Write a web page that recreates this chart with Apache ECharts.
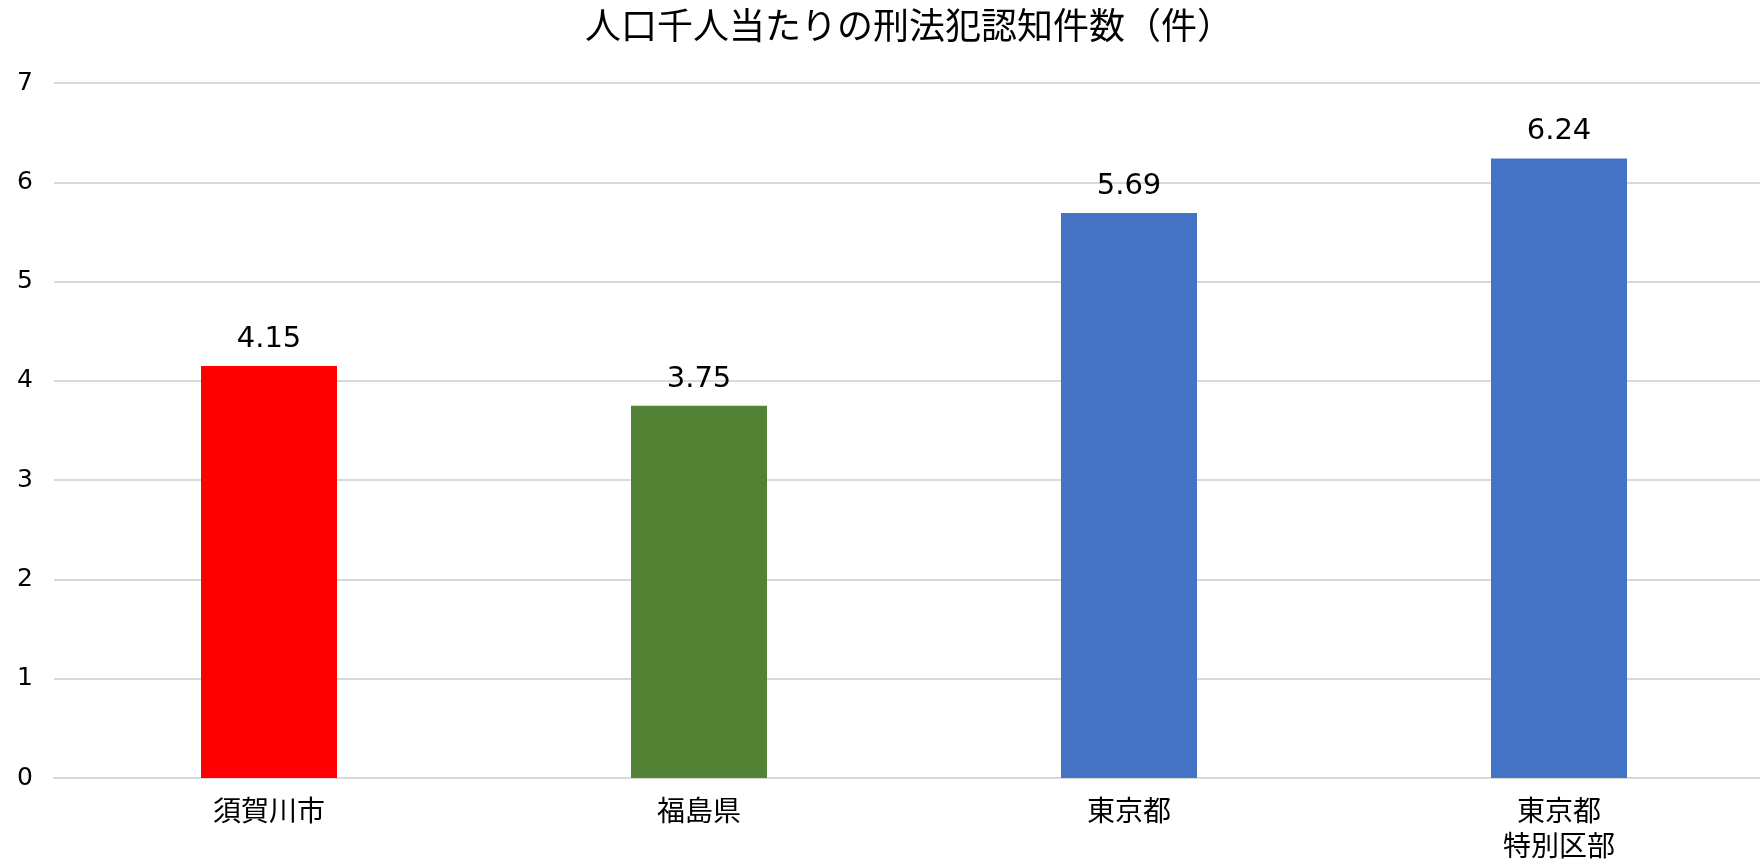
<!DOCTYPE html>
<html>
<head>
<meta charset="utf-8">
<script src="https://cdn.jsdelivr.net/npm/echarts@6/dist/echarts.min.js"></script>
<style>
html, body { margin: 0; padding: 0; background: #fff; }
#chart { width: 1760px; height: 864px; }
</style>
</head>
<body>
<div id="chart"></div>
<script>
// data
var chartTitle = '人口千人当たりの刑法犯認知件数（件）';
var categories = ['須賀川市', '福島県', '東京都', '東京都\n特別区部'];
var values = [4.15, 3.75, 5.69, 6.24];
var barColors = ['#FF0000', '#548235', '#4472C4', '#4472C4'];
var yTicks = [0, 1, 2, 3, 4, 5, 6, 7];

var font = '"Noto Sans CJK JP", "Noto Sans", sans-serif';
var numFont = '"DejaVu Sans", sans-serif';

var myChart = echarts.init(document.getElementById('chart'));
var option = {
    animation: false,
    title: {
        text: chartTitle,
        left: 904,
        top: 2,
        textAlign: 'center',
        textStyle: {
            fontFamily: font,
            fontSize: 36,
            fontWeight: 'normal',
            color: '#000'
        }
    },
    grid: {
        left: 54,
        top: 83,
        width: 1720,
        height: 695,
        outerBoundsMode: 'none'
    },
    xAxis: {
        type: 'category',
        data: categories,
        axisTick: { show: false },
        axisLine: { lineStyle: { color: '#d9d9d9', width: 2 } },
        axisLabel: {
            color: '#000',
            fontFamily: font,
            fontSize: 28,
            lineHeight: 35,
            margin: 15
        }
    },
    yAxis: {
        type: 'value',
        min: yTicks[0],
        max: yTicks[yTicks.length - 1],
        interval: 1,
        axisLine: { show: false },
        axisTick: { show: false },
        splitLine: { lineStyle: { color: '#d9d9d9', width: 2 } },
        axisLabel: {
            color: '#000',
            fontFamily: numFont,
            fontSize: 25,
            margin: 21
        }
    },
    series: [{
        type: 'bar',
        barWidth: 136,
        data: values.map(function (v, i) {
            return { value: v, itemStyle: { color: barColors[i] } };
        }),
        label: {
            show: true,
            position: 'top',
            distance: 12,
            color: '#000',
            fontFamily: numFont,
            fontSize: 29,
            formatter: function (p) { return p.value.toFixed(2); }
        }
    }]
};
myChart.setOption(option);
</script>
</body>
</html>
